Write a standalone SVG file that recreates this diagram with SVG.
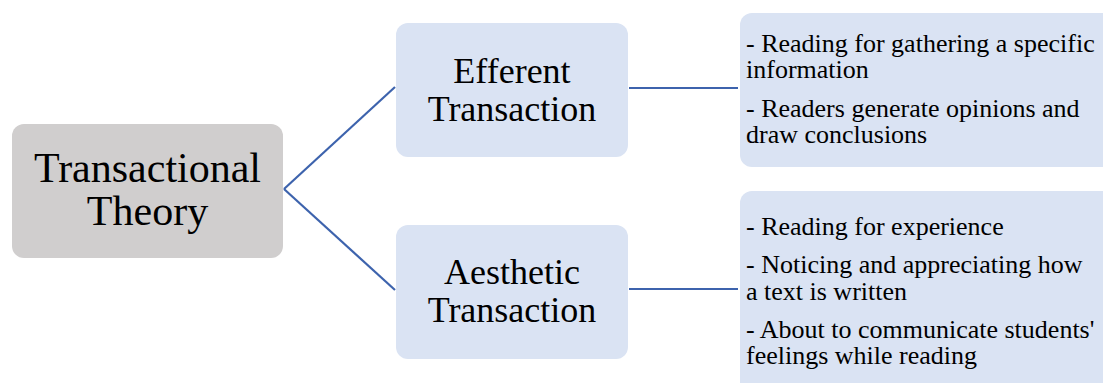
<svg xmlns="http://www.w3.org/2000/svg" width="1103" height="383" viewBox="0 0 1103 383">
  <style>
    .root { fill: #d0cece; }
    .node { fill: #dae3f3; }
    text { fill: #000000; }
    .big { font-size: 42px; text-anchor: middle; }
    .mid { font-size: 36px; text-anchor: middle; }
    .small { font-size: 26px; }
    .link { stroke: #3d63ad; stroke-width: 2.2; fill: none; }
  </style>
  <rect width="1103" height="383" fill="#ffffff"/>

  <g id="connectors">
    <line class="link" x1="284" y1="189" x2="395" y2="87"/>
    <line class="link" x1="284" y1="189" x2="395" y2="290"/>
    <line class="link" x1="629" y1="88" x2="738" y2="88"/>
    <line class="link" x1="629" y1="289" x2="738" y2="289"/>
  </g>

  <g id="transactional-theory">
    <rect class="root" x="12" y="124" width="271" height="134" rx="12"/>
    <text class="big" x="147.5" y="182" style="font-family: serif">Transactional</text>
    <text class="big" x="147.5" y="225" style="font-family: serif">Theory</text>
  </g>

  <g id="efferent-transaction">
    <rect class="node" x="396" y="23" width="232" height="134" rx="12"/>
    <text class="mid" x="512" y="83" style="font-family: serif">Efferent</text>
    <text class="mid" x="512" y="121" style="font-family: serif">Transaction</text>
  </g>

  <g id="aesthetic-transaction">
    <rect class="node" x="396" y="225" width="232" height="134" rx="12"/>
    <text class="mid" x="512" y="284" style="font-family: serif">Aesthetic</text>
    <text class="mid" x="512" y="322" style="font-family: serif">Transaction</text>
  </g>

  <g id="efferent-details">
    <rect class="node" x="740" y="13" width="400" height="154" rx="12"/>
    <text class="small" x="746" y="52" style="font-family: serif">- Reading for gathering a specific</text>
    <text class="small" x="746" y="78" style="font-family: serif">information</text>
    <text class="small" x="746" y="117" style="font-family: serif">- Readers generate opinions and</text>
    <text class="small" x="746" y="143" style="font-family: serif">draw conclusions</text>
  </g>

  <g id="aesthetic-details">
    <rect class="node" x="740" y="191" width="400" height="220" rx="12"/>
    <text class="small" x="746" y="235" style="font-family: serif">- Reading for experience</text>
    <text class="small" x="746" y="273" style="font-family: serif">- Noticing and appreciating how</text>
    <text class="small" x="746" y="300" style="font-family: serif">a text is written</text>
    <text class="small" x="746" y="338" style="font-family: serif">- About to communicate students'</text>
    <text class="small" x="746" y="364" style="font-family: serif">feelings while reading</text>
  </g>
</svg>
